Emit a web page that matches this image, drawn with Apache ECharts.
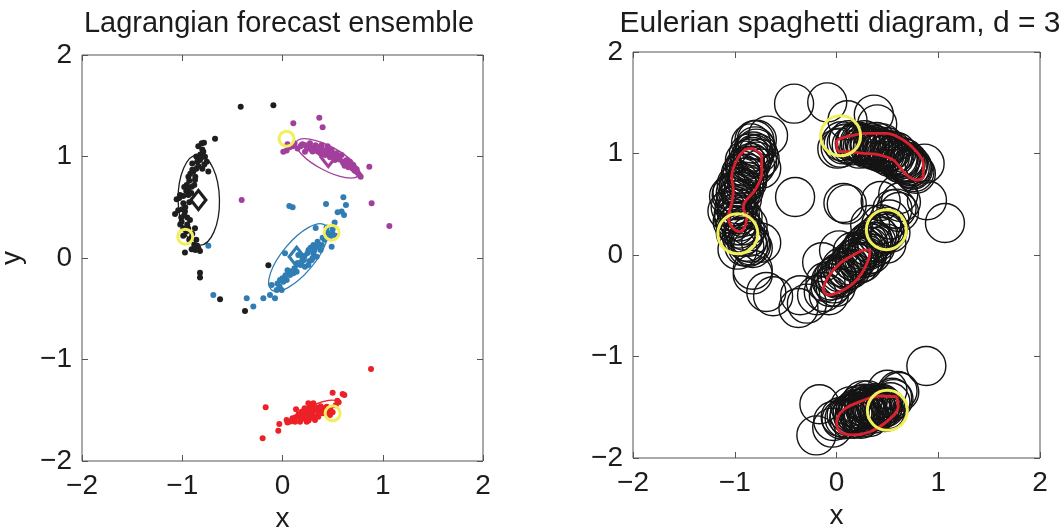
<!DOCTYPE html>
<html>
<head>
<meta charset="utf-8">
<script src="https://cdn.jsdelivr.net/npm/echarts@6/dist/echarts.min.js"></script>
<style>
  html, body { margin: 0; padding: 0; background: #fff; }
  #chart { width: 1061px; height: 529px; }
</style>
</head>
<body>
<div id="chart"></div>
<script>
// Ensemble feature positions, one array per cluster
const blackPts = [
  [-0.417, 1.491], [-0.091, 1.504], [-0.673, 1.176], [-0.806, 1.130], [-0.783, 1.136],
  [-0.790, 1.048], [-0.773, 0.998], [-0.823, 0.965], [-0.756, 0.949], [-0.840, 0.906],
  [-0.889, 0.851], [-0.740, 0.851], [-0.939, 0.801], [-0.873, 0.768], [-0.956, 0.719],
  [-0.906, 0.703], [-1.022, 0.621], [-0.939, 0.621], [-1.056, 0.578], [-0.989, 0.539],
  [-1.072, 0.433], [-0.973, 0.457], [-1.006, 0.358], [-0.923, 0.374], [-0.989, 0.292],
  [-0.873, 0.292], [-0.973, 0.053], [-0.906, 0.085], [-0.840, 0.095], [-0.823, 0.069],
  [-0.823, -0.145], [-0.823, -0.191], [-0.623, -0.407], [-0.374, -0.522], [-0.141, -0.072],
  [-0.860, 1.000], [-0.900, 0.930], [-0.960, 0.660], [-1.000, 0.480], [-0.950, 0.400],
  [-0.800, 1.070], [-0.820, 1.020], [-0.780, 0.920], [-0.860, 0.880], [-0.920, 0.830],
  [-0.870, 0.800], [-0.930, 0.760], [-0.980, 0.700], [-0.940, 0.670], [-1.030, 0.590],
  [-0.970, 0.500], [-1.040, 0.470], [-0.980, 0.420], [-1.020, 0.330], [-0.950, 0.330],
  [-0.960, 0.260], [-0.900, 0.240], [-0.930, 0.180], [-0.880, 0.130], [-0.850, 0.120],
  [-0.840, 1.100], [-0.810, 0.990], [-0.850, 0.950], [-0.800, 0.880], [-0.900, 0.870],
  [-0.880, 0.720], [-0.910, 0.640], [-0.990, 0.610], [-0.930, 0.550], [-1.010, 0.400],
  [-0.940, 0.290], [-0.990, 0.220], [-0.910, 0.200], [-0.860, 0.180], [-0.870, 0.080]
];
const magentaPts = [
  [0.108, 1.327], [0.367, 1.383], [0.400, 1.287], [0.008, 1.048], [0.041, 1.058],
  [0.191, 1.113], [0.241, 1.097], [0.291, 1.064], [0.324, 1.080], [0.357, 1.048],
  [0.391, 1.113], [0.424, 1.015], [0.490, 1.064], [0.474, 0.992], [0.524, 0.966],
  [0.540, 1.031], [0.590, 1.015], [0.640, 0.966], [0.673, 0.949], [0.706, 0.916],
  [0.740, 0.874], [0.766, 0.818], [0.866, 0.900], [0.889, 0.539], [1.066, 0.315],
  [-0.407, 0.571], [0.274, 1.130], [0.224, 1.048], [0.607, 0.933], [0.657, 0.893],
  [0.330, 1.110], [0.450, 1.040], [0.560, 0.990], [0.700, 0.880],
  [0.050, 1.120], [0.100, 1.100], [0.150, 1.080], [0.200, 1.120], [0.260, 1.080],
  [0.300, 1.050], [0.360, 1.090], [0.410, 1.060], [0.460, 1.020], [0.500, 1.000],
  [0.550, 0.980], [0.600, 0.950], [0.620, 0.910], [0.680, 0.910], [0.720, 0.860],
  [0.750, 0.840], [0.780, 0.800], [0.450, 1.100], [0.380, 1.030],
  [0.070, 1.090], [0.120, 1.130], [0.180, 1.100], [0.230, 1.110], [0.280, 1.090],
  [0.330, 1.060], [0.390, 1.080], [0.430, 1.040], [0.480, 1.040], [0.520, 1.020],
  [0.570, 0.970], [0.630, 0.940], [0.660, 0.920], [0.700, 0.900], [0.740, 0.850]
];
const bluePts = [
  [0.607, 0.598], [0.633, 0.522], [0.434, 0.532], [0.068, 0.512], [0.101, 0.499],
  [0.590, 0.457], [0.614, 0.424], [0.490, 0.112], [0.500, 0.236], [0.474, 0.210],
  [0.331, 0.295], [0.308, 0.128], [0.341, 0.112], [0.391, 0.128], [0.308, 0.046],
  [0.341, 0.013], [0.291, -0.020], [0.025, 0.046], [0.191, -0.036], [0.224, -0.086],
  [0.141, -0.135], [0.108, -0.151], [0.075, -0.168], [0.042, -0.217], [0.008, -0.233],
  [-0.025, -0.217], [-0.108, -0.266], [-0.058, -0.315], [-0.008, -0.315], [-0.125, -0.365],
  [-0.075, -0.397], [-0.191, -0.397], [-0.357, -0.397], [-0.291, -0.479], [-0.690, -0.365],
  [-0.740, 0.121], [0.158, 0.030], [0.214, -0.020], [0.258, -0.069],
  [0.200, 0.000], [0.250, 0.050], [0.280, 0.100], [0.350, 0.160], [0.400, 0.200],
  [0.450, 0.250], [0.120, -0.100], [0.050, -0.120], [0.000, -0.200], [-0.050, -0.250],
  [0.180, -0.070], [0.300, 0.000], [0.380, 0.080], [0.520, 0.350], [0.550, 0.450],
  [0.220, 0.020], [0.260, 0.080], [0.320, 0.080], [0.360, 0.130], [0.420, 0.180],
  [0.470, 0.230], [0.150, -0.050], [0.090, -0.130], [0.030, -0.170], [-0.030, -0.280],
  [0.270, -0.030], [0.440, 0.300], [0.500, 0.280], [0.530, 0.220]
];
const redPts = [
  [-0.198, -1.777], [-0.168, -1.471], [-0.032, -1.636], [-0.042, -1.701], [0.041, -1.596],
  [0.135, -1.491], [0.125, -1.613], [0.175, -1.613], [0.241, -1.613], [0.208, -1.547],
  [0.241, -1.514], [0.274, -1.465], [0.308, -1.432], [0.258, -1.432], [0.291, -1.547],
  [0.324, -1.596], [0.341, -1.498], [0.374, -1.514], [0.407, -1.481], [0.441, -1.465],
  [0.474, -1.547], [0.500, -1.327], [0.600, -1.340], [0.617, -1.350], [0.547, -1.406],
  [0.883, -1.094], [0.191, -1.514], [0.158, -1.563], [0.225, -1.580], [0.357, -1.563],
  [0.424, -1.530],
  [0.200, -1.580], [0.260, -1.600], [0.300, -1.520], [0.330, -1.470], [0.360, -1.530],
  [0.390, -1.500], [0.430, -1.500], [0.460, -1.480], [0.280, -1.500], [0.220, -1.480],
  [0.160, -1.540], [0.100, -1.580], [0.050, -1.620], [0.500, -1.520], [0.530, -1.450],
  [0.560, -1.420],
  [0.180, -1.560], [0.240, -1.550], [0.270, -1.580], [0.310, -1.560], [0.350, -1.490],
  [0.400, -1.530], [0.450, -1.510], [0.220, -1.520], [0.130, -1.570], [0.080, -1.610],
  [0.480, -1.500], [0.380, -1.460], [0.300, -1.480]
];

// Cluster means (diamonds)
const blackMean = [-0.839, 0.571];
const magentaMean = [0.457, 0.995];
const blueMean = [0.141, 0.013];

// Covariance ellipses: [centre x, centre y, semi-major, semi-minor, angle in degrees]
const blackEllipse = [-0.835, 0.571, 0.45, 0.205, 91];
const magentaEllipse = [0.449, 0.982, 0.349, 0.12, -28];
const blueEllipse = [0.158, 0.005, 0.416, 0.16, 50];
const redEllipse = [0.324, -1.506, 0.234, 0.06, 23];

// Highlighted members (yellow rings)
const highlightPts = [[0.04, 1.175], [-0.97, 0.21], [0.49, 0.25], [0.50, -1.53]];

// Probability contours of the Eulerian diagram
const contourWest = [
  [-0.833, 1.051], [-0.735, 0.969], [-0.735, 0.805], [-0.800, 0.640], [-0.900, 0.525],
  [-0.916, 0.460], [-0.883, 0.377], [-0.900, 0.280], [-0.950, 0.230], [-1.030, 0.280],
  [-1.063, 0.377], [-1.030, 0.510], [-1.014, 0.640], [-1.030, 0.770], [-0.980, 0.936],
  [-0.900, 1.035], [-0.833, 1.051]
];
const contourNorth = [
  [0.002, 1.133], [0.100, 1.166], [0.297, 1.199], [0.493, 1.199], [0.657, 1.133],
  [0.788, 1.018], [0.853, 0.903], [0.853, 0.772], [0.788, 0.739], [0.690, 0.788],
  [0.558, 0.936], [0.428, 0.985], [0.263, 1.002], [0.100, 1.018], [0.034, 1.018],
  [0.002, 1.067], [0.002, 1.133]
];
const contourCentre = [
  [0.329, 0.049], [0.313, -0.049], [0.248, -0.180], [0.165, -0.279], [0.034, -0.361],
  [-0.080, -0.394], [-0.130, -0.345], [-0.080, -0.214], [0.034, -0.082], [0.165, 0.000],
  [0.280, 0.049], [0.329, 0.049]
];
const contourSouth = [
  [0.592, -1.396], [0.607, -1.495], [0.493, -1.642], [0.329, -1.741], [0.165, -1.773],
  [0.034, -1.741], [0.002, -1.642], [0.067, -1.527], [0.231, -1.445], [0.428, -1.389],
  [0.592, -1.396]
];

const titles = ['Lagrangian forecast ensemble', 'Eulerian spaghetti diagram, d = 3'];
const tickValues = [-2, -1, 0, 1, 2];

const FONT = 'Liberation Sans, Arial, Helvetica, sans-serif';
const INK = '#1c1c1c';
const FRAME = '#555555';
const COL = { black: '#1e1e1e', magenta: '#a23f9c', blue: '#2f7db4', red: '#ec2127', yellow: '#f1ef5a' };

const fmt = v => String(v).replace('-', '\u2212');

function xAxisFor(grid, top, withName) {
  return {
    type: 'value', gridIndex: grid, min: tickValues[0], max: tickValues[tickValues.length - 1], interval: 1,
    position: top ? 'top' : 'bottom',
    name: withName ? 'x' : '', nameLocation: 'middle', nameGap: 41,
    nameTextStyle: { fontSize: 28, color: INK, fontFamily: FONT },
    axisLine: { show: false, onZero: false },
    axisTick: { show: true, inside: true, length: 6, lineStyle: { color: FRAME, width: 1 } },
    axisLabel: { show: !top, fontSize: 28, color: INK, fontFamily: FONT, margin: 11, formatter: fmt },
    splitLine: { show: false }
  };
}
function yAxisFor(grid, right, name) {
  return {
    type: 'value', gridIndex: grid, min: tickValues[0], max: tickValues[tickValues.length - 1], interval: 1,
    position: right ? 'right' : 'left',
    name: name || '', nameLocation: 'middle', nameGap: 56,
    nameTextStyle: { fontSize: 28, color: INK, fontFamily: FONT },
    axisLine: { show: false, onZero: false },
    axisTick: { show: true, inside: true, length: 6, lineStyle: { color: FRAME, width: 1 } },
    axisLabel: { show: !right, fontSize: 28, color: INK, fontFamily: FONT, margin: 10, formatter: fmt },
    splitLine: { show: false }
  };
}

function dots(data, color) {
  return { type: 'scatter', xAxisIndex: 0, yAxisIndex: 0, data, symbol: 'circle', symbolSize: 6,
    itemStyle: { color, opacity: 1 }, silent: true, z: 3 };
}
function meanMark(pt, color) {
  return { type: 'scatter', xAxisIndex: 0, yAxisIndex: 0, data: [pt], symbol: 'diamond', symbolSize: [15, 19],
    itemStyle: { color: 'rgba(0,0,0,0)', borderColor: color, borderWidth: 3.2, opacity: 1 }, silent: true, z: 5 };
}
function ellipse(params, color) {
  return {
    type: 'custom', xAxisIndex: 0, yAxisIndex: 0, data: [params], silent: true, z: 4,
    encode: { x: 0, y: 1 },
    renderItem: (p, api) => {
      const c = api.coord([api.value(0), api.value(1)]);
      const sc = api.size([1, 1]);
      const k = (sc[0] + sc[1]) / 2;
      return {
        type: 'ellipse', x: c[0], y: c[1], rotation: api.value(4) * Math.PI / 180,
        shape: { cx: 0, cy: 0, rx: api.value(2) * k, ry: api.value(3) * k },
        style: { fill: 'none', stroke: color, lineWidth: 1.3 }
      };
    }
  };
}
function rings(data, xi, size, color, width, z) {
  return { type: 'scatter', xAxisIndex: xi, yAxisIndex: xi, data, symbol: 'circle', symbolSize: size,
    itemStyle: { color: 'rgba(0,0,0,0)', borderColor: color, borderWidth: width, opacity: 1 }, silent: true, z };
}
function contour(data) {
  return { type: 'line', xAxisIndex: 2, yAxisIndex: 2, data, symbol: 'none', smooth: 0.35,
    lineStyle: { color: '#d9222f', width: 2.8 }, silent: true, z: 6, animation: false };
}

const allPts = [].concat(blackPts, magentaPts, bluePts, redPts);

const gridBase = { show: true, borderColor: FRAME, borderWidth: 1, backgroundColor: '#fff',
  containLabel: false, outerBoundsMode: 'none' };

const option = {
  animation: false,
  backgroundColor: '#ffffff',
  title: [
    { text: titles[0], left: 274, top: 4, textAlign: 'center',
      textStyle: { fontSize: 29, fontWeight: 'normal', color: INK, fontFamily: FONT } },
    { text: titles[1], left: 835, top: 4, textAlign: 'center',
      textStyle: { fontSize: 30, fontWeight: 'normal', color: INK, fontFamily: FONT } }
  ],
  grid: [
    Object.assign({ left: 82, top: 55, width: 401, height: 406 }, gridBase),
    Object.assign({ left: 633, top: 52, width: 407, height: 406 }, gridBase)
  ],
  xAxis: [xAxisFor(0, false, true), xAxisFor(0, true, false), xAxisFor(1, false, true), xAxisFor(1, true, false)],
  yAxis: [yAxisFor(0, false, 'y'), yAxisFor(0, true), yAxisFor(1, false), yAxisFor(1, true)],
  series: [
    ellipse(blackEllipse, COL.black),
    ellipse(magentaEllipse, COL.magenta),
    ellipse(blueEllipse, COL.blue),
    ellipse(redEllipse, COL.red),
    dots(blackPts, COL.black),
    dots(magentaPts, COL.magenta),
    dots(bluePts, COL.blue),
    dots(redPts, COL.red),
    meanMark(blackMean, COL.black),
    meanMark(magentaMean, COL.magenta),
    meanMark(blueMean, COL.blue),
    rings(highlightPts, 0, 15, COL.yellow, 3, 7),
    rings(allPts, 2, 39, '#141414', 1.4, 3),
    contour(contourWest),
    contour(contourNorth),
    contour(contourCentre),
    contour(contourSouth),
    rings(highlightPts, 2, 40, COL.yellow, 3, 8)
  ]
};

const chart = echarts.init(document.getElementById('chart'), null, { renderer: 'canvas' });
chart.setOption(option);
</script>
</body>
</html>
